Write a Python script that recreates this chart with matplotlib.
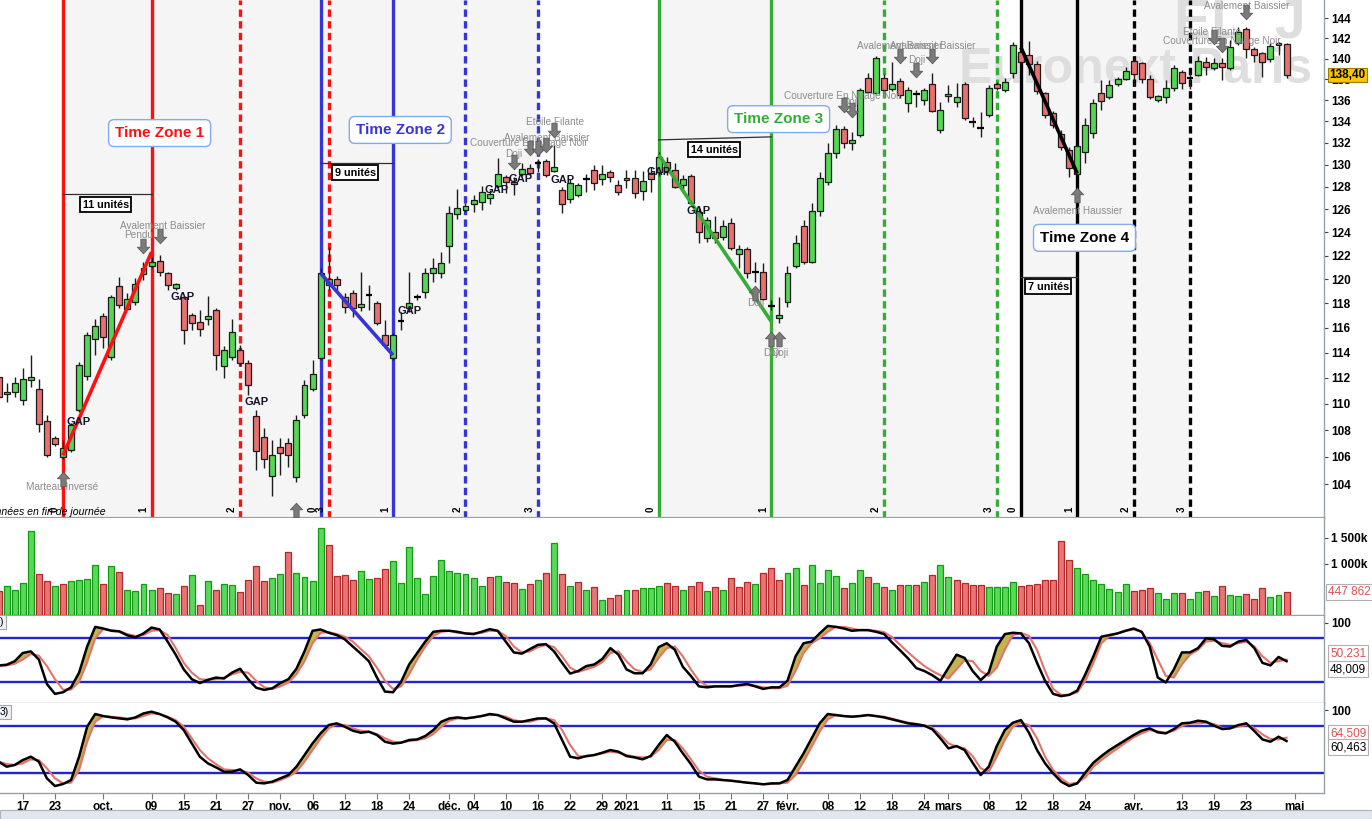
import numpy as np
import matplotlib
matplotlib.use("Agg")
import matplotlib.pyplot as plt
from matplotlib.path import Path
from matplotlib.markers import MarkerStyle
from matplotlib.patches import Rectangle
from matplotlib.ticker import NullLocator, NullFormatter, FixedLocator
import matplotlib.transforms as mtransforms

plt.rcParams['font.family'] = ['Liberation Sans', 'DejaVu Sans']

# ---------------- DATA ----------------
opens = [112.10, 110.78, 110.93, 110.31, 111.86, 111.17, 108.70, 107.43, 106.01, 106.53,
         109.55, 112.18, 115.11, 116.98, 113.68, 119.45, 117.55, 118.13, 120.45, 121.13,
         121.56, 120.54, 119.30, 118.54, 117.06, 116.49, 116.73, 117.47, 112.97, 113.68,
         114.23, 113.20, 109.09, 107.50, 104.61, 106.76, 107.06, 104.54, 109.17, 111.17,
         113.60, 119.53, 120.03, 118.54, 118.87, 117.72, 118.71, 118.05, 115.43, 113.60,
         116.57, 117.63, 118.54, 118.95, 120.54, 120.54, 122.83, 125.61, 125.96, 126.49,
         126.66, 127.02, 128.09, 128.89, 128.44, 129.17, 129.71, 130.16, 130.34, 129.44,
         127.73, 126.93, 127.29, 128.71, 129.53, 128.71, 129.35, 128.18, 128.62, 128.80,
         127.64, 129.26, 129.35, 130.25, 129.53, 128.18, 128.98, 125.78, 123.52, 124.04,
         123.61, 124.82, 122.15, 122.58, 120.62, 120.62, 117.80, 116.81, 118.13, 121.13,
         124.56, 121.47, 125.87, 128.44, 131.07, 133.28, 131.99, 132.73, 138.11, 136.68,
         138.11, 137.06, 137.82, 135.73, 136.58, 136.01, 137.54, 133.19, 136.39, 135.82,
         137.54, 133.93, 133.38, 134.59, 137.54, 136.96, 138.60, 140.65, 140.35, 139.47,
         136.68, 134.78, 132.82, 131.35, 129.17, 131.17, 132.91, 136.68, 136.30, 137.54,
         138.02, 139.76, 139.57, 138.02, 136.01, 136.30, 137.15, 138.70, 138.11, 138.41,
         139.67, 139.08, 139.57, 139.08, 141.53, 142.93, 140.94, 140.55, 139.96, 141.53,
         141.44]
highs = [112.65, 111.63, 112.10, 112.81, 113.83, 111.94, 109.17, 107.58, 107.28, 108.55,
         113.28, 115.68, 116.73, 117.22, 118.71, 120.20, 118.87, 120.12, 121.47, 121.89,
         122.07, 120.62, 119.70, 118.62, 117.22, 117.47, 118.62, 117.63, 114.55, 116.73,
         114.63, 113.44, 109.55, 108.18, 107.28, 107.43, 107.43, 109.17, 111.86, 113.44,
         120.96, 122.75, 120.29, 118.87, 119.12, 120.62, 119.53, 118.21, 116.65, 115.59,
         117.31, 120.62, 118.79, 120.96, 121.81, 122.32, 126.31, 127.82, 126.58, 127.29,
         128.09, 127.73, 130.61, 129.07, 128.89, 130.16, 130.07, 130.52, 130.52, 131.81,
         128.00, 128.71, 128.35, 129.17, 129.98, 129.98, 129.53, 128.62, 129.53, 129.53,
         129.44, 129.80, 131.17, 130.70, 130.16, 129.07, 129.17, 126.22, 125.34, 125.43,
         125.08, 125.26, 122.92, 122.75, 121.47, 121.39, 118.29, 118.54, 121.13, 123.78,
         125.08, 126.58, 129.35, 131.99, 133.66, 133.56, 133.00, 137.15, 138.60, 140.25,
         138.50, 139.67, 138.11, 137.25, 136.96, 137.15, 138.60, 135.82, 137.44, 137.63,
         137.73, 134.40, 134.87, 137.44, 137.73, 138.11, 141.63, 140.84, 141.73, 139.77,
         136.77, 134.97, 133.19, 131.62, 131.81, 134.31, 136.11, 137.92, 137.92, 138.21,
         139.19, 140.06, 139.67, 138.41, 136.49, 137.92, 139.38, 138.89, 138.70, 140.25,
         140.15, 140.06, 140.06, 141.83, 143.13, 143.13, 141.14, 140.65, 141.53, 141.63,
         141.53]
lows = [110.31, 110.16, 110.54, 109.93, 111.32, 107.88, 106.00, 106.83, 105.86, 106.38,
        109.40, 111.86, 113.84, 114.39, 113.44, 117.63, 117.47, 117.88, 119.95, 120.96,
        120.29, 119.12, 119.12, 114.71, 115.84, 115.35, 116.24, 112.65, 112.02, 113.44,
        112.97, 110.70, 105.05, 105.20, 103.10, 104.69, 105.27, 104.18, 108.94, 111.01,
        113.44, 119.12, 118.95, 117.22, 116.90, 117.39, 117.47, 116.24, 114.39, 113.44,
        115.84, 117.31, 118.29, 118.46, 119.78, 120.12, 121.39, 125.17, 125.78, 125.78,
        125.96, 126.49, 127.91, 127.46, 127.29, 128.98, 129.07, 129.35, 128.89, 129.35,
        125.70, 126.58, 127.11, 127.55, 127.73, 128.18, 128.44, 127.29, 127.91, 127.02,
        126.84, 127.55, 128.98, 129.07, 127.91, 127.73, 126.40, 123.09, 123.18, 123.09,
        123.35, 122.49, 120.96, 120.12, 119.78, 118.29, 117.47, 116.41, 117.72, 120.96,
        121.30, 121.39, 125.43, 128.18, 130.61, 131.53, 131.35, 132.55, 136.68, 136.58,
        136.77, 136.87, 136.20, 134.87, 135.35, 135.54, 134.87, 132.91, 135.82, 135.35,
        134.12, 133.47, 132.55, 134.40, 136.96, 136.77, 138.11, 139.47, 138.41, 136.58,
        134.31, 133.38, 131.35, 128.89, 129.07, 130.16, 132.45, 135.06, 136.11, 137.34,
        137.92, 137.34, 137.63, 136.11, 135.82, 135.73, 136.87, 137.06, 137.06, 138.31,
        138.41, 138.89, 137.92, 138.89, 141.34, 140.06, 139.67, 138.21, 139.67, 140.35,
        138.11]
closes = [110.54, 110.93, 111.63, 111.94, 112.10, 108.48, 106.16, 106.98, 106.68, 108.40,
          113.04, 115.43, 116.16, 115.27, 118.54, 117.88, 118.37, 119.62, 120.96, 121.47,
          120.62, 119.53, 119.60, 115.84, 116.41, 115.92, 116.98, 113.84, 114.23, 115.68,
          113.20, 111.48, 106.46, 105.86, 106.16, 106.31, 106.16, 108.78, 111.48, 112.33,
          120.54, 120.03, 119.53, 117.72, 117.63, 117.96, 118.71, 116.41, 114.63, 115.43,
          116.57, 118.05, 118.54, 120.54, 120.96, 121.39, 125.70, 126.14, 126.31, 126.84,
          127.55, 127.37, 129.17, 128.44, 128.26, 129.62, 129.26, 130.16, 129.07, 129.80,
          126.49, 128.35, 128.18, 128.71, 128.35, 129.17, 128.89, 127.55, 128.80, 127.46,
          128.53, 128.71, 130.70, 129.35, 128.00, 128.71, 126.58, 124.04, 125.08, 123.52,
          124.56, 122.66, 122.58, 120.54, 120.62, 118.37, 117.80, 117.06, 120.54, 123.09,
          121.47, 125.87, 128.80, 131.07, 133.28, 131.99, 132.27, 136.96, 136.77, 140.06,
          136.96, 137.54, 136.49, 136.96, 136.58, 136.96, 134.97, 135.06, 136.58, 136.30,
          134.31, 133.93, 133.38, 137.15, 137.15, 137.73, 141.34, 139.67, 139.47, 136.87,
          134.59, 133.66, 131.62, 129.71, 131.72, 133.66, 135.73, 135.92, 137.44, 138.02,
          138.79, 138.50, 138.02, 136.30, 136.38, 137.15, 139.08, 137.63, 138.11, 139.76,
          139.18, 139.57, 139.18, 141.14, 142.63, 140.94, 140.35, 139.67, 141.24, 141.34,
          138.40]
volumes_k = [459, 557, 492, 629, 1631, 805, 668, 570, 609, 668,
             687, 707, 980, 609, 961, 844, 492, 473, 609, 492,
             531, 434, 414, 570, 785, 199, 668, 492, 609, 590,
             453, 687, 961, 668, 727, 805, 1215, 824, 746, 668,
             1683, 1351, 766, 785, 687, 863, 707, 727, 902, 1059,
             629, 1312, 727, 414, 766, 1078, 863, 824, 791, 713,
             557, 732, 752, 635, 615, 498, 596, 674, 810, 1396,
             791, 557, 635, 478, 537, 283, 322, 381, 478, 478,
             518, 518, 557, 615, 557, 478, 557, 635, 459, 537,
             478, 713, 537, 635, 596, 810, 908, 674, 810, 908,
             576, 967, 615, 869, 752, 518, 615, 869, 732, 615,
             537, 478, 576, 576, 576, 635, 771, 967, 732, 674,
             615, 576, 576, 537, 537, 537, 635, 557, 576, 596,
             674, 674, 1435, 1064, 908, 791, 674, 609, 498, 453,
             609, 473, 492, 518, 434, 303, 434, 434, 303, 453,
             473, 375, 557, 395, 361, 414, 303, 518, 342, 381,
             448]
stoch1_k = [42.3, 43.2, 48.0, 59.2, 61.4, 50.3, 17.0, 3.6, 5.8, 12.5,
            32.5, 68.0, 94.7, 92.5, 89.4, 88.5, 83.2, 80.5, 85.8, 93.8,
            91.2, 74.7, 56.9, 36.9, 23.6, 18.3, 22.7, 25.8, 24.5, 32.5,
            37.8, 23.6, 12.0, 9.0, 11.2, 18.3, 23.6, 37.8, 61.4, 89.4,
            91.2, 86.7, 83.6, 77.8, 68.0, 58.3, 48.0, 25.8, 6.7, 5.8,
            20.0, 43.6, 59.2, 74.7, 88.0, 89.4, 89.4, 88.0, 85.8, 84.9,
            88.0, 91.6, 89.4, 74.7, 60.0, 58.3, 64.5, 70.3, 71.2, 61.4,
            45.8, 31.2, 34.7, 41.4, 43.6, 51.2, 65.8, 56.9, 36.9, 31.6,
            31.6, 43.6, 67.2, 72.5, 63.6, 40.5, 28.0, 13.8, 12.5, 13.8,
            13.8, 13.8, 15.6, 17.0, 13.8, 10.3, 12.5, 12.5, 21.4, 54.7,
            72.5, 74.7, 85.8, 96.0, 94.7, 92.5, 89.4, 90.3, 90.3, 88.0,
            84.9, 73.4, 62.7, 51.6, 38.7, 34.7, 28.9, 21.4, 39.2, 56.9,
            52.5, 34.7, 22.3, 32.5, 68.0, 84.9, 86.7, 85.8, 72.5, 45.8,
            21.4, 3.6, 0.5, 2.3, 8.1, 30.3, 54.7, 81.4, 83.6, 85.8,
            89.4, 92.5, 88.0, 68.0, 25.8, 19.2, 36.9, 60.0, 60.0, 65.8,
            79.2, 77.8, 68.9, 68.0, 74.7, 76.9, 65.8, 45.8, 42.3, 53.8,
            48.0]
stoch1_d = [41.4, 42.3, 44.5, 50.3, 57.8, 55.6, 41.4, 23.6, 9.4, 9.4,
            20.0, 46.7, 79.2, 91.6, 90.3, 88.9, 84.9, 82.3, 83.6, 89.4,
            90.3, 83.6, 65.8, 45.8, 32.5, 23.6, 22.7, 23.6, 25.8, 30.3,
            33.4, 32.5, 21.4, 12.5, 10.3, 13.8, 19.2, 30.3, 48.0, 72.5,
            86.7, 87.6, 84.9, 81.4, 74.7, 64.5, 54.7, 39.2, 21.4, 10.3,
            13.8, 30.3, 50.3, 68.0, 82.3, 88.0, 89.4, 86.7, 85.8, 85.8,
            86.7, 89.4, 89.4, 82.3, 68.0, 60.0, 61.4, 67.2, 70.3, 67.2,
            54.7, 39.2, 33.4, 36.9, 40.5, 46.7, 59.2, 61.4, 48.0, 36.9,
            33.4, 36.9, 52.5, 65.8, 68.0, 54.7, 36.9, 21.4, 14.7, 13.8,
            13.8, 13.8, 14.7, 15.6, 14.7, 12.5, 11.2, 11.2, 14.7, 34.7,
            59.2, 72.5, 79.2, 88.0, 94.7, 94.7, 92.5, 90.3, 90.3, 89.4,
            87.6, 80.5, 70.3, 60.0, 50.3, 41.4, 34.7, 28.9, 24.5, 36.9,
            49.4, 48.0, 34.7, 28.0, 39.2, 63.6, 83.6, 86.7, 82.3, 63.6,
            34.7, 10.3, 2.3, 2.3, 5.8, 21.4, 45.8, 72.5, 82.3, 85.8,
            89.4, 91.2, 88.0, 72.5, 50.3, 28.0, 25.8, 43.6, 56.9, 63.6,
            74.7, 76.0, 72.5, 70.3, 72.5, 74.7, 68.0, 54.7, 45.8, 48.0,
            50.3]
stoch2_k = [34.0, 27.6, 29.8, 36.1, 40.4, 34.0, 12.7, 2.9, 5.5, 10.6,
            40.4, 78.7, 94.9, 92.3, 90.6, 89.3, 88.1, 90.6, 95.7, 97.9,
            94.9, 90.6, 85.1, 74.4, 57.4, 40.4, 31.9, 26.8, 21.2, 21.2,
            24.2, 17.0, 7.2, 6.3, 8.5, 12.7, 17.0, 27.6, 42.5, 57.4,
            70.2, 80.8, 83.0, 78.7, 73.6, 71.0, 72.3, 68.1, 59.5, 57.1,
            58.3, 61.7, 62.5, 66.8, 74.4, 85.1, 89.3, 90.6, 89.3, 90.6,
            92.3, 94.9, 93.6, 89.3, 85.1, 85.1, 87.2, 89.3, 89.3, 83.0,
            61.7, 40.4, 38.3, 41.2, 42.5, 45.5, 48.9, 46.8, 41.2, 39.5,
            37.0, 41.2, 55.3, 68.1, 59.5, 44.7, 31.0, 14.9, 11.4, 11.4,
            10.6, 9.7, 8.5, 7.2, 6.3, 5.1, 6.3, 6.3, 10.6, 27.6,
            44.7, 63.8, 83.0, 94.9, 93.6, 92.3, 91.5, 92.3, 93.6, 92.3,
            90.6, 88.1, 85.5, 83.0, 81.7, 80.0, 75.3, 63.8, 51.0, 54.0,
            48.9, 32.7, 17.0, 27.6, 54.0, 74.4, 83.8, 87.2, 71.0, 48.9,
            31.9, 19.1, 8.5, 2.9, 6.3, 20.0, 32.7, 41.2, 48.9, 55.3,
            61.7, 68.1, 73.6, 76.6, 71.5, 70.2, 75.7, 83.0, 83.8, 86.4,
            85.1, 80.0, 75.7, 76.6, 80.8, 83.0, 73.2, 62.5, 59.5, 65.9,
            60.4]
stoch2_d = [34.0, 31.0, 29.8, 31.9, 37.0, 36.1, 25.5, 12.7, 6.3, 7.2,
            23.4, 59.5, 85.1, 92.3, 91.5, 90.6, 89.3, 89.3, 92.3, 95.7,
            94.9, 91.5, 87.2, 78.7, 63.8, 48.9, 38.3, 31.0, 24.2, 23.4,
            22.5, 20.0, 12.7, 8.5, 7.2, 10.6, 14.9, 21.2, 34.0, 48.9,
            63.8, 76.6, 82.1, 80.8, 76.6, 73.6, 72.3, 69.3, 63.8, 59.5,
            58.3, 60.4, 61.7, 63.8, 69.3, 78.7, 86.4, 89.3, 89.3, 90.6,
            92.3, 93.6, 93.6, 91.5, 87.2, 85.1, 85.1, 88.1, 89.3, 87.2,
            74.4, 55.3, 41.2, 40.4, 42.5, 44.7, 46.8, 45.5, 42.5, 40.4,
            39.5, 40.4, 48.9, 61.7, 61.7, 51.0, 37.0, 22.5, 14.9, 12.7,
            10.6, 9.7, 8.5, 7.2, 6.3, 5.1, 5.5, 6.3, 7.2, 17.0,
            34.0, 53.2, 72.3, 88.1, 93.6, 92.3, 91.5, 92.3, 93.6, 92.3,
            91.5, 88.9, 86.4, 83.8, 82.5, 80.4, 77.4, 68.1, 57.4, 53.2,
            51.0, 41.2, 25.5, 21.2, 40.4, 61.7, 78.7, 83.8, 80.8, 63.8,
            40.4, 23.4, 12.7, 5.5, 7.2, 14.0, 27.6, 36.1, 43.8, 51.0,
            58.3, 65.1, 70.2, 74.4, 72.7, 71.0, 73.6, 79.6, 83.0, 83.0,
            83.8, 82.1, 77.0, 76.6, 78.7, 80.8, 77.0, 68.9, 62.9, 62.5,
            64.7]

tick_idx = [3, 7, 13, 19, 23, 27, 31, 35, 39, 43, 47, 51, 56, 59, 63, 67, 71, 75, 78,
            83, 87, 91, 95, 98, 103, 107, 111, 115, 118, 123, 127, 131, 135, 141,
            147, 151, 155, 161]
tick_labels = ['17', '23', 'oct.', '09', '15', '21', '27', 'nov.', '06', '12', '18', '24',
               'déc.', '04', '10', '16', '22', '29', '2021', '11', '15', '21', '27', 'févr.',
               '08', '12', '18', '24', 'mars', '08', '12', '18', '24', 'avr.', '13', '19',
               '23', 'mai']

price_ticks = list(range(104, 145, 2))

# Time zones
tz_start = [8, 40, 82, 127]
tz_units = [11, 9, 14, 7]
tz_colors = ['#ff1010', '#3535d8', '#35ad35', '#000000']
tz_titles = ['Time Zone 1', 'Time Zone 2', 'Time Zone 3', 'Time Zone 4']
tz_trend_from = [106.1, 120.5, 130.9, 141.1]
tz_trend_to = [122.3, 113.8, 116.5, 129.2]

gap_labels = [(9.9, 108.63), (22.9, 118.54), (32.0, 110.16), (51.1, 117.39), (61.9, 127.73),
              (64.9, 128.71), (70.0, 128.62), (82.0, 129.35), (87.0, 125.87)]

pattern_texts = [("Marteau Inversé", 7.9, 103.75), ("Pendu", 17.4, 123.78),
                 ("Avalement Baissier", 20.4, 124.56), ("Doji", 64.0, 131.0),
                 ("Couverture En Nuage Noir", 65.9, 132.0), ("Avalement Baissier", 68.1, 132.45),
                 ("Etoile Filante", 69.1, 133.93), ("Doji", 94.0, 118.05), ("Doji", 96.0, 114.0),
                 ("Doji", 97.0, 114.0), ("Couverture En Nuage Noir", 104.9, 136.39),
                 ("Doji", 105.9, 135.82), ("Avalement Baissier", 112.0, 141.24),
                 ("Avalement Baissier", 116.0, 141.24), ("Doji", 114.0, 139.86),
                 ("Avalement Haussier", 134.0, 125.87), ("Etoile Filante", 150.7, 142.63),
                 ("Couverture En Nuage Noir", 152.0, 141.73), ("Avalement Baissier", 155.0, 145.2)]
down_arrows = [(18, 122.83), (20, 123.69), (64, 130.25), (66, 131.53), (67, 131.53), (68, 131.81),
               (69, 133.19), (105, 135.54), (106, 135.06), (112, 140.25), (116, 140.25),
               (114, 138.89), (151, 142.13), (152, 141.34), (155, 144.63)]
up_arrows = [(8, 104.39), (37, 102.1), (94, 118.87), (96, 115.11), (97, 115.11), (134, 127.29)]

# ---------------- FIGURE ----------------
W, H = 1372, 819
fig = plt.figure(figsize=(W / 100, H / 100), dpi=100)
fig.patch.set_facecolor('white')


def fx(px):
    return px / W


def fy(py):
    return 1 - py / H


AXR = 1324
ax_p = fig.add_axes([0, fy(518), fx(AXR), 518 / H])
ax_v = fig.add_axes([0, fy(615), fx(AXR), (615 - 518) / H])
ax_s1 = fig.add_axes([0, fy(703), fx(AXR), (703 - 616) / H])
ax_s2 = fig.add_axes([0, fy(793), fx(AXR), (793 - 703) / H])

n = len(closes)
x = np.arange(n)
o, h, l, c = map(np.array, (opens, highs, lows, closes))
XL = (0.174, 164.65)

SPINE = '#9aa0a6'
for ax in (ax_p, ax_v, ax_s1, ax_s2):
    ax.set_xlim(*XL)
    ax.set_facecolor('white')
    for s in ('left', 'top'):
        ax.spines[s].set_visible(False)
    for s in ('right', 'bottom'):
        ax.spines[s].set_color(SPINE)
        ax.spines[s].set_linewidth(1.0)
    ax.yaxis.tick_right()
    ax.tick_params(axis='x', which='both', bottom=False, labelbottom=False)
    ax.tick_params(axis='y', which='both', length=3, width=0.8, color='#444444',
                   pad=2, labelsize=8.5)
ax_p.spines['bottom'].set_linewidth(1.6)

# ---- price panel ----
ax_p.set_yscale('log')
ax_p.set_ylim(101.56, 145.85)
ax_p.yaxis.set_major_locator(FixedLocator(price_ticks))
ax_p.yaxis.set_minor_locator(NullLocator())
ax_p.yaxis.set_minor_formatter(NullFormatter())
ax_p.set_yticklabels([str(t) for t in price_ticks])
for lab in ax_p.get_yticklabels():
    lab.set_fontweight('bold')

# light shading of the time-zone spans
for s, u in zip(tz_start, tz_units):
    ax_p.axvspan(s, s + 3 * u, color='#f5f5f5', lw=0, zorder=0)

# watermarks
ax_p.text(1136 / AXR, 1 - 70 / 518, 'Euronext Paris', transform=ax_p.transAxes,
          fontsize=36, fontweight='bold', color='#dedede', ha='center', va='center', zorder=1)
ax_p.text(1240 / AXR, 1 - 37 / 518, 'EL  J', transform=ax_p.transAxes,
          fontsize=40, fontweight='bold', color='#dedede', ha='center', va='baseline', zorder=1)

# time zones
blend = mtransforms.blended_transform_factory(ax_p.transData, ax_p.transAxes)
for s, u, col, title, pf, pt in zip(tz_start, tz_units, tz_colors, tz_titles,
                                     tz_trend_from, tz_trend_to):
    for k in range(4):
        pos = s + k * u
        ls = '-' if k < 2 else (0, (2.2, 1.3))
        ax_p.axvline(pos, color=col, lw=2.4, ls=ls, zorder=2)
        ax_p.text(pos - 1.0, 0.012, str(k), transform=blend, rotation=90,
                  fontsize=7, fontweight='bold', ha='center', va='bottom', zorder=6)
    ax_p.plot([s, s + u], [pf, pt], color=col, lw=2.6, zorder=5, solid_capstyle='butt')

GREEN = '#55d655'
RED = '#e87070'
EDGE = '#1c1c1c'
up = c >= o
doji = np.abs(c - o) < 0.02
ax_p.vlines(x, l, h, color=EDGE, lw=1.0, zorder=3)
body_lo = np.minimum(o, c)
body_hi = np.maximum(o, c)
nd = ~doji
ax_p.bar(x[nd], (body_hi - body_lo)[nd], bottom=body_lo[nd], width=0.74,
         color=np.where(up, GREEN, RED)[nd], edgecolor=EDGE, linewidth=0.9, zorder=4)
ax_p.hlines(c[doji], x[doji] - 0.42, x[doji] + 0.42, color='black', lw=1.6, zorder=4)

# unit measures
unit_lines = [(127.37, 127.37), (130.16, 130.16), (132.27, 132.55), (120.2, 120.2)]
unit_boxes = [(13.3, 126.4), (44.3, 129.26), (88.9, 131.35), (130.4, 119.37)]
title_pos = [(20.0, 132.9), (49.9, 133.19), (96.9, 134.2), (134.9, 123.52)]
for s, u, col, title, ul, ub, tp in zip(tz_start, tz_units, tz_colors, tz_titles,
                                          unit_lines, unit_boxes, title_pos):
    ax_p.plot([s, s + u], list(ul), color='#303030', lw=0.9, zorder=5)
    ax_p.text(ub[0], ub[1], f'{u} unités', fontsize=7.8, fontweight='bold', ha='center',
              va='center', zorder=7,
              bbox=dict(boxstyle='square,pad=0.22', fc='white', ec='black', lw=1.3))
    ax_p.text(tp[0], tp[1], title, color=col, fontsize=11, fontweight='bold', ha='center',
              va='center', zorder=7,
              bbox=dict(boxstyle='round,pad=0.42,rounding_size=0.35', fc='white',
                        ec='#82aaf0', lw=1.0))

for gx, gy in gap_labels:
    ax_p.text(gx, gy, 'GAP', fontsize=8, fontweight='bold', color='#14142a', ha='center',
              va='center', zorder=6)

for t, px_, py_ in pattern_texts:
    ax_p.text(px_, py_, t, fontsize=7.2, color='#8c8c8c', ha='center', va='center', zorder=6)

arrow_down = Path([(-0.18, 0.5), (0.18, 0.5), (0.18, -0.05), (0.42, -0.05), (0.0, -0.5),
                   (-0.42, -0.05), (-0.18, -0.05), (-0.18, 0.5)],
                  [Path.MOVETO] + [Path.LINETO] * 6 + [Path.CLOSEPOLY])
arrow_up = Path(arrow_down.vertices * np.array([1, -1]), arrow_down.codes)
dx, dy = zip(*down_arrows)
ax_p.plot(dx, dy, ls='none', marker=MarkerStyle(arrow_down), markersize=10.5,
          markerfacecolor='#7b7b7b', markeredgecolor='#5a5a5a', markeredgewidth=0.6, zorder=6)
ux, uy = zip(*up_arrows)
ax_p.plot(ux, uy, ls='none', marker=MarkerStyle(arrow_up), markersize=10.5,
          markerfacecolor='#7b7b7b', markeredgecolor='#5a5a5a', markeredgewidth=0.6, zorder=6)

ax_p.text(-18 / AXR, 6 / 518, 'Données en fin de journée', transform=ax_p.transAxes,
          fontsize=7.6, style='italic', ha='left', va='center', zorder=6)

# last price label
ax_p.text(1.0 + 5 / AXR, closes[-1], f'{closes[-1]:.2f}'.replace('.', ','),
          transform=ax_p.get_yaxis_transform(), fontsize=8.5, fontweight='bold',
          ha='left', va='center', zorder=10,
          bbox=dict(boxstyle='square,pad=0.12', fc='#ffc400', ec='#9a7a00', lw=0.8),
          clip_on=False)
ax_p.text(1.0 + 6 / AXR, 146.2, '146', transform=ax_p.get_yaxis_transform(), fontsize=8.5,
          fontweight='bold', ha='left', va='center', clip_on=False)

# ---- volume ----
vol = np.array(volumes_k, dtype=float)
prev = np.concatenate([[o[0]], c[:-1]])
vup = c >= prev
ax_v.bar(x, vol, width=0.74, color=np.where(vup, '#5ad85a', '#ea7474'),
         edgecolor=np.where(vup, '#129a12', '#b02828'), linewidth=0.9, zorder=3)
ax_v.set_ylim(0, 1885)
ax_v.set_yticks([1000, 1500])
ax_v.set_yticklabels(['1 000k', '1 500k'])
for lab in ax_v.get_yticklabels():
    lab.set_fontweight('bold')
ax_v.text(1.0 + 4 / AXR, vol[-1], '447 862', transform=ax_v.get_yaxis_transform(),
          fontsize=8.5, color='#e05050', ha='left', va='center', clip_on=False,
          bbox=dict(boxstyle='square,pad=0.15', fc='white', ec='#b0b0b0', lw=0.8))


# ---- stochastics ----
def draw_stoch(ax, k, d, ylim, lab_d, lab_k, yd_px, yk_px, legend, leg_y):
    k = np.array(k)
    d = np.array(d)
    ax.set_ylim(*ylim)
    ax.fill_between(x, k, d, where=k >= d, interpolate=True, color='#c3b450', lw=0,
                    zorder=2)
    ax.axhline(80, color='#2424cc', lw=1.7, zorder=1)
    ax.axhline(20, color='#2424cc', lw=1.7, zorder=1)
    ax.plot(x, d, color='#e5736b', lw=1.5, zorder=3)
    ax.plot(x, k, color='black', lw=1.8, zorder=4)
    ax.set_yticks([100])
    ax.set_yticklabels(['100'])
    for lb in ax.get_yticklabels():
        lb.set_fontweight('bold')
    fig.text(fx(1330), fy(yd_px), lab_d, fontsize=8.5, color='#e05050', ha='left',
             va='center', bbox=dict(boxstyle='square,pad=0.15', fc='white', ec='#b0b0b0',
                                    lw=0.8))
    fig.text(fx(1330), fy(yk_px), lab_k, fontsize=8.5, color='black', ha='left',
             va='center', bbox=dict(boxstyle='square,pad=0.15', fc='white', ec='#b0b0b0',
                                    lw=0.8))
    ax.text(0.0, leg_y, legend, transform=ax.transAxes, fontsize=7.5, ha='left', va='top',
            zorder=8, bbox=dict(boxstyle='square,pad=0.2', fc='#eef2f6', ec='#a0a8b0', lw=0.8))


draw_stoch(ax_s1, stoch1_k, stoch1_d, (-8.8, 109.5), '50,231', '48,009', 653, 669, ')', 0.985)
draw_stoch(ax_s2, stoch2_k, stoch2_d, (-6.0, 109.0), '64,509', '60,463', 733, 747, '3)', 0.96)

# x axis labels
ax_s2.tick_params(axis='x', which='both', bottom=True, labelbottom=True, length=4,
                  color='#777777', labelsize=8.5, pad=2)
ax_s2.set_xticks(tick_idx)
ax_s2.set_xticklabels(tick_labels)
for lab in ax_s2.get_xticklabels():
    lab.set_fontweight('bold')

# bottom toolbar strip
fig.patches.append(Rectangle((0, 0), 1, 9 / H, transform=fig.transFigure, fc='#e2e7ee',
                             ec='#aab4c0', lw=0.8))

fig.savefig('out.png', dpi=100)
